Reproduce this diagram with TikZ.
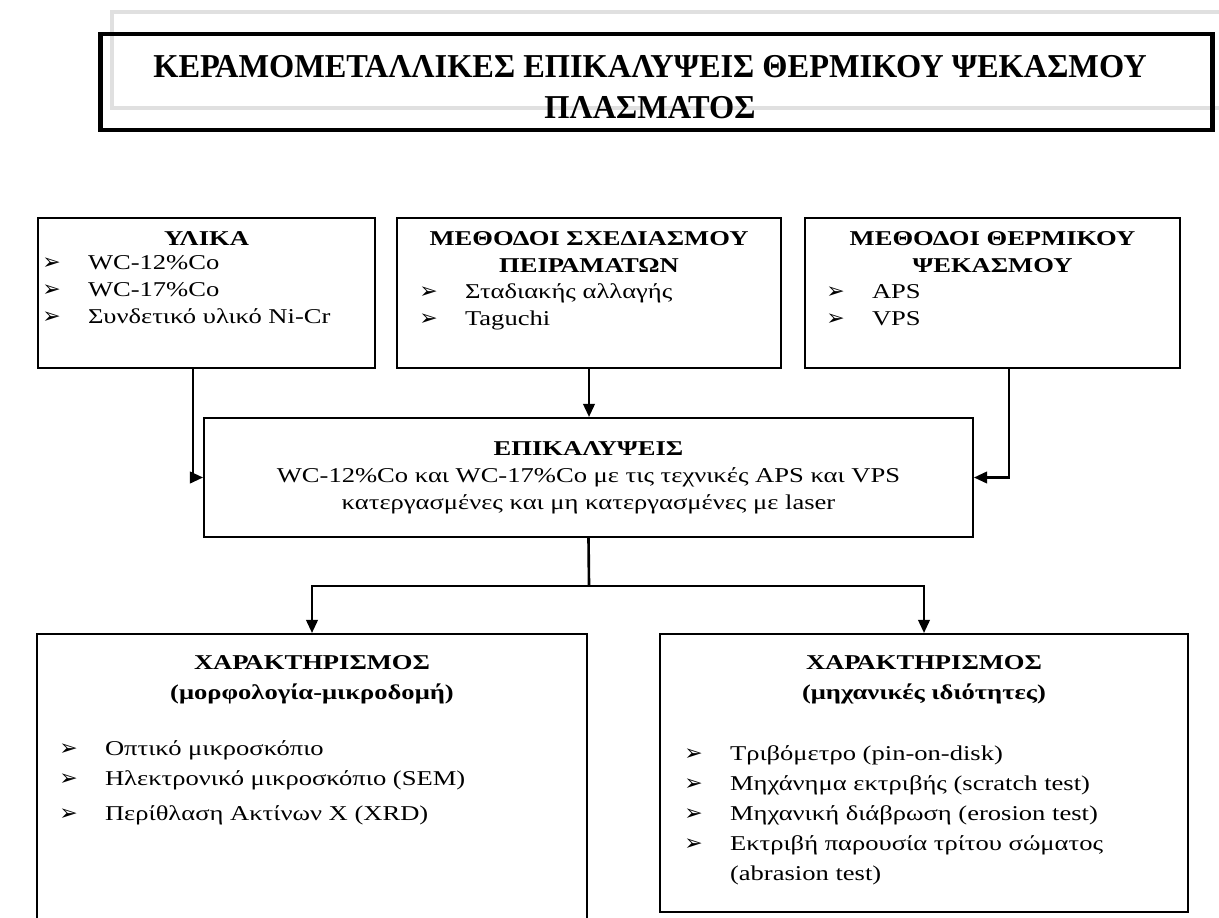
\documentclass[tikz,border=0pt]{standalone}
\usepackage{fontspec}
\setmainfont{Liberation Serif}[FakeStretch=1.26]
\newfontfamily\titlefont{Liberation Serif}[FakeStretch=0.97]
\newfontfamily\arrowfont{DejaVu Sans}
\usepackage{tikz}
\usetikzlibrary{positioning,arrows.meta}

\newcommand{\itemmark}{\makebox[26pt][l]{\arrowfont\fontsize{12.5}{12.5}\selectfont ➢}}

\tikzset{
  box/.style={draw, line width=1.1pt, inner sep=0pt},
  head/.style={font=\bfseries\fontsize{12}{15.4}\selectfont, align=center, inner sep=0pt, anchor=north},
  items/.style={font=\fontsize{12}{15.4}\selectfont, align=left, inner sep=0pt, anchor=north west},
  conn/.style={line width=1.5pt, -{Triangle[length=7.5pt,width=6.5pt]}},
  link/.style={line width=1.5pt}
}

\begin{document}
\begin{tikzpicture}[x=0.02cm, y=-0.02cm]
\useasboundingbox (0,0) rectangle (1219,918);

% title
\draw[black!12, line width=2.8pt] (1240,12) -- (112,12) -- (112,108) -- (1240,108);
\node[draw, line width=2.8pt, minimum width=22.26cm, minimum height=1.92cm] (frame) at (656.5,82) {};
\node[font=\titlefont\bfseries\fontsize{19}{23}\selectfont, align=center, inner sep=0pt, anchor=north] (title) at (650,49)
  {\strut ΚΕΡΑΜΟΜΕΤΑΛΛΙΚΕΣ ΕΠΙΚΑΛΥΨΕΙΣ ΘΕΡΜΙΚΟΥ ΨΕΚΑΣΜΟΥ\\ΠΛΑΣΜΑΤΟΣ};

% top row
\node[box, minimum width=6.74cm, minimum height=3cm] (mat) at (206.5,293) {};
\node[box, minimum width=7.68cm, minimum height=3cm] (doe) at (589,293) {};
\node[box, minimum width=7.5cm, minimum height=3cm] (spray) at (992.5,293) {};

\node[head] (matH) at (206.5,226) {\strut ΥΛΙΚΑ};
\node[items] (matL) at (42,250) {\strut\itemmark WC-12\%Co\\\itemmark WC-17\%Co\\\itemmark Συνδετικό υλικό Ni-Cr};
\node[head] (doeH) at (589,226) {\strut ΜΕΘΟΔΟΙ ΣΧΕΔΙΑΣΜΟΥ\\ΠΕΙΡΑΜΑΤΩΝ};
\node[items] (doeL) at (419,279) {\strut\itemmark Σταδιακής αλλαγής\\\itemmark Taguchi};
\node[head] (sprayH) at (992.5,226) {\strut ΜΕΘΟΔΟΙ ΘΕΡΜΙΚΟΥ\\ΨΕΚΑΣΜΟΥ};
\node[items] (sprayL) at (826,279) {\strut\itemmark APS\\\itemmark VPS};

% coatings
\node[box, minimum width=15.38cm, minimum height=2.38cm] (coat) at (588.5,477.5) {};
\node[head, font=\fontsize{12}{15.4}\selectfont] (coatT) at (588.5,436)
  {\strut\textbf{ΕΠΙΚΑΛΥΨΕΙΣ}\\WC-12\%Co και WC-17\%Co με τις τεχνικές APS και VPS\\κατεργασμένες και μη κατεργασμένες με laser};

% characterisation
\node[box, minimum width=11cm, minimum height=7cm] (morph) at (312,809) {};
\node[box, minimum width=10.56cm, minimum height=5.56cm] (mech) at (924,773) {};

\node[head] (morphH) at (312,650) {\strut ΧΑΡΑΚΤΗΡΙΣΜΟΣ\\[1.7pt](μορφολογία-μικροδομή)};
\node[items] (morphL) at (59,736) {\strut\itemmark Οπτικό μικροσκόπιο\\[1.7pt]\itemmark Ηλεκτρονικό μικροσκόπιο (SEM)\\[4.6pt]\itemmark Περίθλαση Ακτίνων Χ (XRD)};
\node[head] (mechH) at (924,650) {\strut ΧΑΡΑΚΤΗΡΙΣΜΟΣ\\[1.7pt](μηχανικές ιδιότητες)};
\node[items] (mechL) at (684,741) {\strut\itemmark Τριβόμετρο (pin-on-disk)\\[1.7pt]\itemmark Μηχάνημα εκτριβής (scratch test)\\[1.7pt]\itemmark Μηχανική διάβρωση (erosion test)\\[1.7pt]\itemmark Εκτριβή παρουσία τρίτου σώματος\\[1.7pt]\hspace*{26pt}(abrasion test)};

% connectors
\coordinate (matdrop) at (193,0);
\coordinate (spraydrop) at (1009,0);
\coordinate (split) at (589,586);
\draw[conn] (mat.south -| matdrop) |- (coat.west);
\draw[conn] (doe.south) -- (doe.south |- coat.north);
\draw[conn] (spray.south -| spraydrop) |- (coat.east);
\draw[link] (coat.south) -- (split);
\draw[conn] (split) -| (morph.north);
\draw[conn] (split) -| (mech.north);
\end{tikzpicture}
\end{document}
